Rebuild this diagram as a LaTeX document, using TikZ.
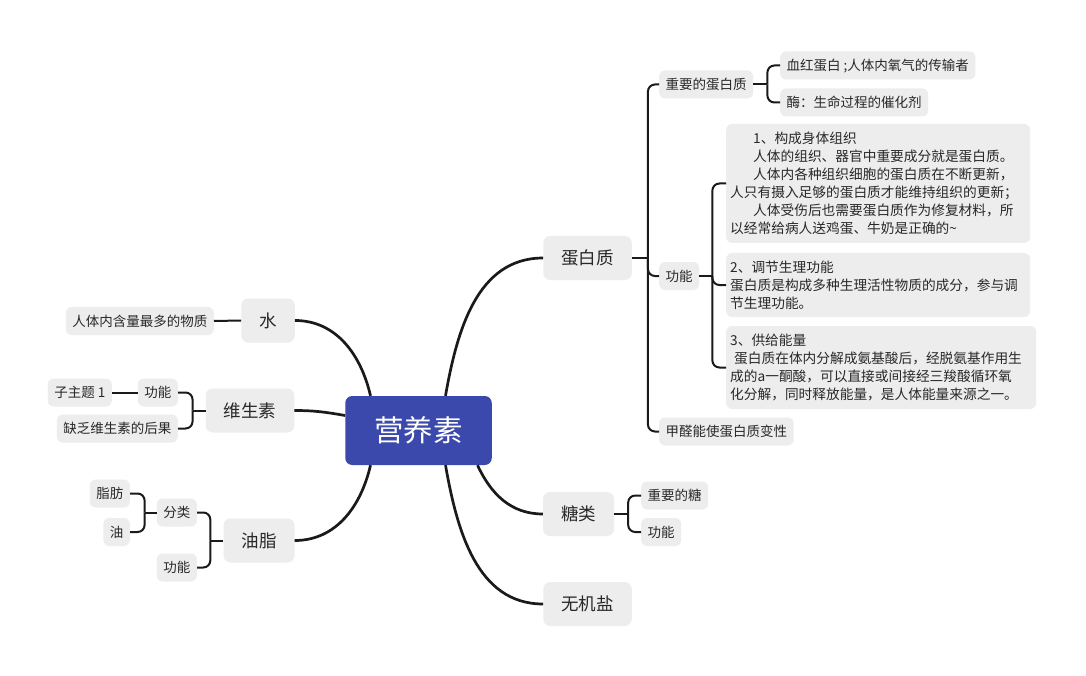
\documentclass[tikz,border=0pt]{standalone}
\usepackage{fontspec}
\setmainfont{Noto Sans CJK SC}
\usetikzlibrary{calc}
\definecolor{boxgray}{RGB}{237,237,237}
\definecolor{cblue}{RGB}{58,73,171}
\definecolor{txt}{RGB}{40,40,40}
\definecolor{ln}{RGB}{26,26,26}
\tikzset{
  sub/.style={rounded corners=6pt, fill=boxgray, text=txt, font=\fontsize{13.5}{16}\selectfont,
    inner xsep=6.5pt, inner ysep=0pt, minimum height=28pt, text height=11.9pt, text depth=1.6pt},
  mainb/.style={rounded corners=7pt, fill=boxgray, text=txt, font=\fontsize{17.5}{20}\selectfont,
    inner xsep=18pt, inner ysep=0pt, minimum height=44pt, text height=15.4pt, text depth=2.1pt},
  root/.style={rounded corners=7pt, fill=cblue, text=white, font=\fontsize{29.5}{32}\selectfont,
    inner xsep=29pt, inner ysep=0pt, minimum height=69pt, text height=25.9pt, text depth=3.6pt},
  para/.style={rounded corners=6pt, fill=boxgray, text=txt, font=\fontsize{13.7}{18}\selectfont,
    align=left, inner xsep=4pt, inner ysep=0pt},
  curve/.style={draw=ln, line width=2.7pt},
  br/.style={draw=ln, line width=2pt, rounded corners=7pt},
}
\begin{document}
\begin{tikzpicture}[x=1pt, y=-1pt]
\path[use as bounding box, fill=white] (0,0) rectangle (1086,676);

% main nodes
\node[root] (c) at (418.5,430.5) {营养素};
\node[mainb] (dbz) at (587.5,258) {蛋白质};
\node[mainb] (tl) at (578.5,514) {糖类};
\node[mainb] (wjy) at (587.5,604) {无机盐};
\node[mainb] (shui) at (268,320.5) {水};
\node[mainb] (wss) at (250,410.5) {维生素};
\node[mainb] (yz) at (259,540.5) {油脂};

% right side sub nodes
\node[sub, anchor=west] (zy) at (659,84.5) {重要的蛋白质};
\node[sub, anchor=west] (gn1) at (659,276) {功能};
\node[sub, anchor=west] (jq) at (659,431.5) {甲醛能使蛋白质变性};
\node[sub, anchor=west] (xh) at (780,65.5) {血红蛋白 ;人体内氧气的传输者};
\node[sub, anchor=west] (mei) at (780,102.5) {酶：生命过程的催化剂};
\node[para, anchor=west, text width=296pt, minimum height=119pt] (p1) at (726,183.5) {%
\hspace*{23pt}1、构成身体组织\\
\hspace*{23pt}人体的组织、器官中重要成分就是蛋白质。\\
\hspace*{23pt}人体内各种组织细胞的蛋白质在不断更新，\\
人只有摄入足够的蛋白质才能维持组织的更新；\\
\hspace*{23pt}人体受伤后也需要蛋白质作为修复材料，所\\
以经常给病人送鸡蛋、牛奶是正确的\textasciitilde};
\node[para, anchor=west, text width=296pt, minimum height=64pt] (p2) at (726,285) {%
2、调节生理功能\\
蛋白质是构成多种生理活性物质的成分，参与调\\
节生理功能。};
\node[para, anchor=west, text width=302pt, minimum height=83pt] (p3) at (726,367.5) {%
3、供给能量\\
\hspace*{4pt}蛋白质在体内分解成氨基酸后，经脱氨基作用生\\
成的a一酮酸，可以直接或间接经三羧酸循环氧\\
化分解，同时释放能量，是人体能量来源之一。};
\node[sub, anchor=west] (zyt) at (641,495.5) {重要的糖};
\node[sub, anchor=west] (gn2) at (641,532) {功能};

% left side sub nodes
\node[sub, anchor=east] (rt) at (214,321) {人体内含量最多的物质};
\node[sub, anchor=east] (gn3) at (178,392.5) {功能};
\node[sub, anchor=east] (zzt) at (112,392.5) {子主题 1};
\node[sub, anchor=east] (qf) at (178,428.5) {缺乏维生素的后果};
\node[sub, anchor=east] (fl) at (197,512.5) {分类};
\node[sub, anchor=east] (gn4) at (197,567.5) {功能};
\node[sub, anchor=east] (zf) at (130,493.5) {脂肪};
\node[sub, anchor=east] (you) at (130,532) {油};

% main curves
\coordinate (c1) at ($(c.north)+(27,0)$);
\coordinate (c2) at ($(c.north)+(-48,0)$);
\coordinate (c3) at ($(c.west)+(0,-15)$);
\coordinate (c4) at ($(c.south)+(-48,0)$);
\coordinate (c5) at ($(c.south)+(27,0)$);
\coordinate (c6) at ($(c.south)+(59,0)$);
\draw[curve] (c1) to[out=80,in=180] (dbz.west);
\draw[curve] (c2) to[out=103,in=0] (shui.east);
\draw[curve] (c3) to[out=170,in=0] (wss.east);
\draw[curve] (c4) to[out=-103,in=0] (yz.east);
\draw[curve] (c5) to[out=-80,in=180] (wjy.west);
\draw[curve] (c6) to[out=-65,in=180] (tl.west);

% brackets
\coordinate (b1) at ($(dbz.east)+(16,0)$);
\draw[br] (dbz.east) -- (b1);
\draw[br] (b1) |- (zy.west);
\draw[br] (b1) |- (gn1.west);
\draw[br] (b1) |- (jq.west);

\coordinate (b2) at ($(zy.east)+(14,0)$);
\draw[br] (zy.east) -- (b2);
\draw[br] (b2) |- (xh.west);
\draw[br] (b2) |- (mei.west);

\coordinate (b3) at ($(gn1.east)+(13,0)$);
\draw[br] (gn1.east) -- (b3);
\draw[br] (b3) |- (p1.west);
\draw[br] (b3) |- (p2.west);
\draw[br] (b3) |- (p3.west);

\coordinate (b4) at ($(tl.east)+(14,0)$);
\draw[br] (tl.east) -- (b4);
\draw[br] (b4) |- (zyt.west);
\draw[br] (b4) |- (gn2.west);

\coordinate (b5) at ($(wss.west)+(-13,0)$);
\draw[br] (wss.west) -- (b5);
\draw[br] (b5) |- (gn3.east);
\draw[br] (b5) |- (qf.east);

\coordinate (b6) at ($(yz.west)+(-13,0)$);
\draw[br] (yz.west) -- (b6);
\draw[br] (b6) |- (fl.east);
\draw[br] (b6) |- (gn4.east);

\coordinate (b7) at ($(fl.west)+(-12,0)$);
\draw[br] (fl.west) -- (b7);
\draw[br] (b7) |- (zf.east);
\draw[br] (b7) |- (you.east);

\draw[br] (shui.west) -- (rt.east);
\draw[br] (gn3.west) -- (zzt.east);
\end{tikzpicture}
\end{document}
